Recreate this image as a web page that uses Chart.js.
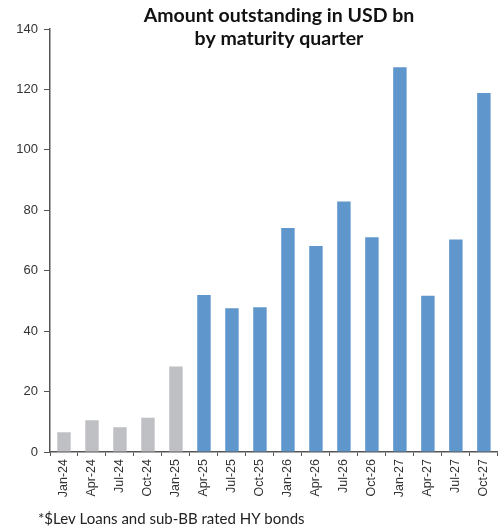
<!DOCTYPE html>
<html>
<head>
<meta charset="utf-8">
<script src="https://cdn.jsdelivr.net/npm/chart.js@4.4.1/dist/chart.umd.min.js"></script>
<style>
  html, body { margin: 0; padding: 0; background: #ffffff; }
  #wrap { width: 502px; height: 529px; position: relative; }
</style>
</head>
<body>
<div id="wrap"><canvas id="chart" width="502" height="529"></canvas></div>
<script>
// Maturity quarters and amount outstanding (USD bn)
const quarters = ["Jan-24", "Apr-24", "Jul-24", "Oct-24", "Jan-25", "Apr-25", "Jul-25", "Oct-25",
                  "Jan-26", "Apr-26", "Jul-26", "Oct-26", "Jan-27", "Apr-27", "Jul-27", "Oct-27"];
const amounts = [6.5, 10.5, 8.2, 11.3, 28.3, 52, 47.6, 47.9, 74.1, 68.2, 82.9, 71.1, 127.3, 51.7, 70.3, 118.8];
// Quarters already past are shaded grey, upcoming ones blue
const isPast = [true, true, true, true, true, false, false, false,
                false, false, false, false, false, false, false, false];
const yTicks = [0, 20, 40, 60, 80, 100, 120, 140];
const titleLines = ["Amount outstanding in USD bn", "by maturity quarter"];
const footnote = "*$Lev Loans and sub-BB rated HY bonds";

const BLUE = "#5f96cb";
const GREY = "#bfc0c4";
const AXIS = "#555555";
const TEXT = "#333333";

// Title and footnote drawn at fixed spots on the canvas
const textPlugin = {
  id: "textPlugin",
  afterDraw(chart) {
    const ctx = chart.ctx;
    ctx.save();
    ctx.fillStyle = "#111111";
    ctx.textAlign = "center";
    ctx.textBaseline = "alphabetic";
    ctx.font = "bold 19.5px Lato, 'Open Sans', sans-serif";
    ctx.fillText(titleLines[0], 279, 22);
    ctx.fillText(titleLines[1], 279, 45);
    ctx.textAlign = "left";
    ctx.fillStyle = "#222222";
    ctx.font = "15px Lato, 'Open Sans', sans-serif";
    ctx.fillText(footnote, 38, 524);
    ctx.restore();
  }
};

new Chart(document.getElementById("chart"), {
  type: "bar",
  data: {
    labels: quarters,
    datasets: [{
      data: amounts,
      backgroundColor: isPast.map(p => p ? GREY : BLUE),
      borderWidth: 0,
      barPercentage: 0.48,
      categoryPercentage: 1.0
    }]
  },
  options: {
    responsive: false,
    animation: false,
    devicePixelRatio: 1,
    layout: { padding: { top: 29, right: 4, bottom: 0, left: 0 } },
    plugins: {
      legend: { display: false },
      title: { display: false },
      tooltip: { enabled: false }
    },
    scales: {
      x: {
        offset: true,
        afterFit(scale) { scale.height = 77; },
        grid: {
          drawOnChartArea: false,
          drawTicks: true,
          tickLength: 4,
          color: AXIS,
          offset: true
        },
        border: { display: true, color: AXIS, width: 1.5 },
        ticks: {
          autoSkip: false,
          maxRotation: 90,
          minRotation: 90,
          padding: 3,
          color: TEXT,
          font: { family: "'Liberation Sans', Arial, sans-serif", size: 12.5 }
        }
      },
      y: {
        min: 0,
        max: 140,
        afterFit(scale) { scale.width = 50; },
        afterBuildTicks(scale) { scale.ticks = yTicks.map(v => ({ value: v })); },
        grid: {
          drawOnChartArea: false,
          drawTicks: true,
          tickLength: 6,
          color: AXIS
        },
        border: { display: true, color: AXIS, width: 1.5 },
        ticks: {
          padding: 6,
          color: TEXT,
          font: { family: "'Liberation Sans', Arial, sans-serif", size: 13 }
        }
      }
    }
  },
  plugins: [textPlugin]
});
</script>
</body>
</html>
